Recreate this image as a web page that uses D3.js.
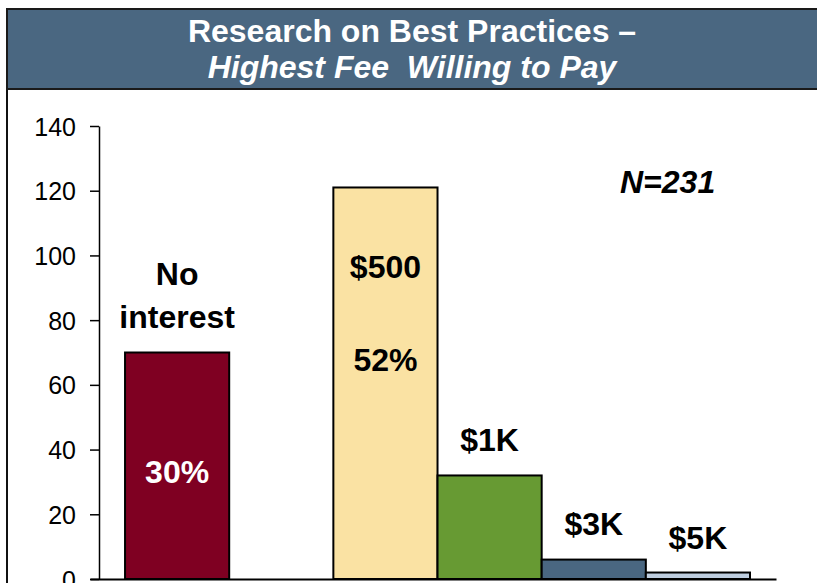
<!DOCTYPE html>
<html>
<head>
<meta charset="utf-8">
<script src="https://cdn.jsdelivr.net/npm/d3@7"></script>
<style>
    html, body { margin: 0; padding: 0; background: #fff; }
    svg { display: block; font-family: "Liberation Sans", Arial, sans-serif; }
</style>
</head>
<body>
<svg width="817" height="583"></svg>
<script>
// *** data ***
const categories = ['No interest', 'gap', '$500', '$1K', '$3K', '$5K'];
const counts = [70, null, 121, 32, 6, 2];
const barColors = ['#7f0022', 'none', '#fae2a3', '#679a33', '#4a6781', '#bfcee0'];
const yTicks = [0, 20, 40, 60, 80, 100, 120, 140];
const titleLines = ['Research on Best Practices \u2013', 'Highest Fee  Willing to Pay'];
const sampleSize = 231;

const svg = d3.select('svg');
const width = +svg.attr('width');

// *** frame + title banner ***
svg.append('line')
    .attr('x1', 7).attr('x2', 7)
    .attr('y1', 9).attr('y2', 583)
    .attr('stroke', '#111').attr('stroke-width', 2);
svg.append('rect')
    .attr('x', 7).attr('y', 9)
    .attr('width', width + 10).attr('height', 80)
    .attr('fill', '#4a6781')
    .attr('stroke', '#1a1a1a').attr('stroke-width', 2);
svg.selectAll('.title')
    .data(titleLines)
    .enter()
    .append('text')
    .attr('class', 'title')
    .attr('x', 412)
    .attr('y', (d, i) => i === 0 ? 42 : 78)
    .attr('text-anchor', 'middle')
    .attr('fill', '#fff')
    .attr('font-size', 32)
    .attr('font-weight', 'bold')
    .attr('font-style', (d, i) => i === 0 ? 'normal' : 'italic')
    .style('white-space', 'pre')
    .text(d => d);

// *** scales ***
const y = d3.scaleLinear().domain([0, 140]).range([579, 126]);
const x = d3.scaleBand()
    .domain(categories)
    .range([90, 776])
    .paddingInner(0)
    .paddingOuter(0.293)
    .align(0.574);

// *** axes ***
const yAxis = svg.append('g')
    .attr('transform', 'translate(99,0)')
    .call(d3.axisLeft(y).tickValues(yTicks).tickSize(9).tickPadding(14).tickSizeOuter(0));
yAxis.selectAll('text')
    .attr('font-size', 25)
    .attr('font-family', '"Liberation Sans", Arial, sans-serif')
    .attr('fill', '#000')
    .attr('dy', '0.36em');
yAxis.selectAll('line, path').attr('stroke', '#000').attr('stroke-width', 1.5);

// bars
const bars = categories.map((c, i) => ({ cat: c, value: counts[i], color: barColors[i] }))
    .filter(d => d.value !== null);
svg.append('g')
    .selectAll('rect')
    .data(bars)
    .enter()
    .append('rect')
    .attr('x', d => x(d.cat))
    .attr('y', d => y(d.value))
    .attr('width', x.bandwidth())
    .attr('height', d => y(0) - y(d.value))
    .attr('fill', d => d.color)
    .attr('stroke', '#000')
    .attr('stroke-width', 2);

const xAxis = svg.append('g')
    .attr('transform', 'translate(0,' + y(0) + ')')
    .call(d3.axisBottom(x).tickSize(0).tickSizeOuter(0).tickFormat(''));
xAxis.selectAll('.tick').remove();
xAxis.select('path').attr('stroke', '#000').attr('stroke-width', 2);

// *** labels ***
const pct = v => Math.round(v / sampleSize * 100) + '%';
const labels = [
    { cat: 'No interest', text: 'No', dy: -67.5, color: '#000' },
    { cat: 'No interest', text: 'interest', dy: -24.5, color: '#000' },
    { cat: 'No interest', text: pct(counts[0]), dy: 130.5, color: '#fff' },
    { cat: '$500', text: '$500', dy: 90.5, color: '#000' },
    { cat: '$500', text: pct(counts[2]), dy: 183.5, color: '#000' },
    { cat: '$1K', text: '$1K', dy: -24.5, color: '#000' },
    { cat: '$3K', text: '$3K', dy: -24.5, color: '#000' },
    { cat: '$5K', text: '$5K', dy: -23.5, color: '#000' },
];
svg.append('g')
    .selectAll('text')
    .data(labels)
    .enter()
    .append('text')
    .attr('x', d => x(d.cat) + x.bandwidth() / 2)
    .attr('y', d => y(counts[categories.indexOf(d.cat)]) + d.dy)
    .attr('text-anchor', 'middle')
    .attr('font-size', 32)
    .attr('font-weight', 'bold')
    .attr('fill', d => d.color)
    .text(d => d.text);

svg.append('text')
    .attr('x', 620)
    .attr('y', 193)
    .attr('font-size', 32)
    .attr('font-weight', 'bold')
    .attr('font-style', 'italic')
    .text('N=' + sampleSize);
</script>
</body>
</html>
